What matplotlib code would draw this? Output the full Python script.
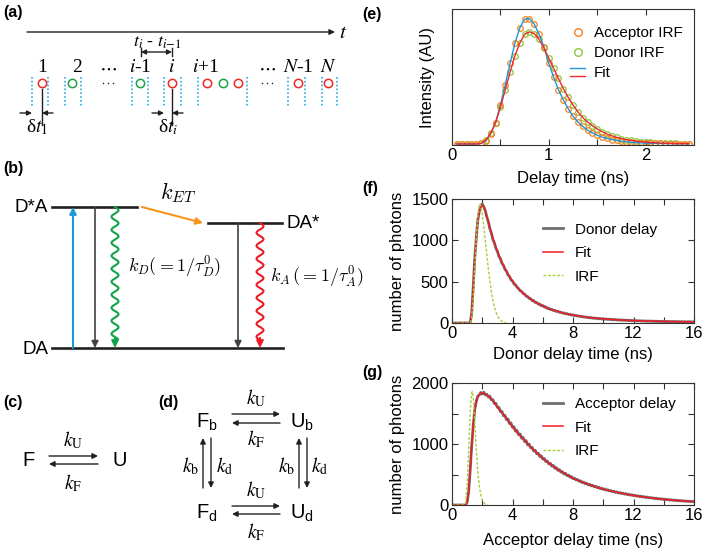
import numpy as np
import matplotlib.pyplot as plt
from matplotlib.lines import Line2D
from matplotlib.legend_handler import HandlerBase

plt.rcParams['font.family'] = ['Liberation Sans', 'DejaVu Sans']
plt.rcParams['mathtext.fontset'] = 'custom'
plt.rcParams['mathtext.rm'] = 'Liberation Sans'
plt.rcParams['mathtext.it'] = 'Liberation Sans:italic'

# ---------------- data ----------------
# (e) normalised IRFs, sampled every 0.05 ns
irf_t = np.round(np.arange(0.05, 2.451, 0.05), 2)
acc_irf = [0, 0, 0, 0, 0, 0.005, 0.025, 0.08, 0.17, 0.31, 0.47, 0.64, 0.80, 0.92,
           0.99, 0.995, 0.95, 0.87, 0.77, 0.64, 0.53, 0.43, 0.35, 0.28, 0.22,
           0.175, 0.14, 0.11, 0.088, 0.07, 0.055, 0.044, 0.035, 0.028, 0.022,
           0.018, 0.014, 0.011, 0.009, 0.007, 0.006, 0.005, 0.004, 0.003,
           0.003, 0.002, 0.002, 0.002, 0.001]
don_irf = [0, 0, 0, 0, 0, 0.005, 0.03, 0.085, 0.17, 0.29, 0.43, 0.57, 0.70, 0.80,
           0.87, 0.89, 0.875, 0.83, 0.76, 0.68, 0.60, 0.52, 0.44, 0.37, 0.31,
           0.255, 0.21, 0.175, 0.145, 0.12, 0.098, 0.08, 0.065, 0.053, 0.043,
           0.035, 0.028, 0.023, 0.018, 0.015, 0.012, 0.01, 0.008, 0.006,
           0.005, 0.004, 0.003, 0.003, 0.002]

# (f),(g) photon histograms, 0.1 ns bins from 0 to 16 ns
delay_t = np.round(np.arange(0, 16.01, 0.1), 1)
donor_delay = [0] * 12 + [
    6, 115, 430, 770, 1015, 1240, 1345, 1415, 1440, 1405, 1362, 1285, 1226, 1142,
    1090, 1012, 972, 905, 868, 806, 778, 722, 698, 648, 628, 582, 563, 522, 508,
    472, 460, 432, 417, 392, 384, 357, 349, 324, 320,
    296, 294, 270, 271, 249, 248, 229, 229, 209, 211,
    193, 196, 176, 179, 163, 166, 151, 153, 139, 143,
    129, 131, 119, 123, 111, 114, 103, 106, 95, 99,
    89, 91, 83, 86, 77, 80, 71, 74, 66, 70,
    61, 66, 57, 62, 54, 58, 50, 55, 47, 52,
    45, 49, 42, 47, 40, 44, 37, 42, 35, 40,
    33, 38, 31, 36, 30, 34, 28, 33, 26, 31,
    25, 30, 24, 28, 23, 27, 21, 26, 20, 25,
    19, 24, 18, 23, 18, 22, 17, 21, 16, 21,
    15, 20, 15, 19, 14, 19, 14, 18, 13, 18,
    13, 17, 12, 17, 12, 16, 12, 16, 11, 15]
acceptor_delay = [0] * 10 + [
    45, 215, 560, 965, 1290, 1560, 1690, 1785, 1800, 1845,
    1820, 1850, 1805, 1815, 1770, 1785, 1725, 1728, 1665, 1668,
    1600, 1602, 1530, 1535, 1462, 1470, 1398, 1410, 1335, 1345,
    1272, 1282, 1210, 1222, 1152, 1165, 1095, 1108, 1040, 1055,
    985, 998, 935, 946, 885, 898, 840, 850, 795, 808,
    752, 764, 712, 722, 672, 684, 636, 648, 602, 612,
    568, 580, 538, 548, 508, 520, 482, 492, 455, 466,
    432, 440, 410, 418, 388, 396, 368, 376, 349, 357,
    331, 339, 314, 322, 298, 306, 283, 291, 268, 277,
    255, 263, 242, 250, 230, 238, 218, 227, 207, 216,
    197, 205, 187, 195, 178, 186, 169, 177, 160, 168,
    152, 160, 144, 152, 137, 145, 130, 138, 123, 131,
    117, 124, 111, 118, 105, 112, 99, 106, 94, 101,
    89, 96, 84, 91, 80, 86, 76, 82, 72, 78,
    68, 74, 64, 70, 61, 66, 58, 63, 55, 60, 52]

donor_fit_t = [0, 1.2, 1.3, 1.4, 1.5, 1.6, 1.7, 1.8, 1.9, 2.0, 2.1, 2.2, 2.4, 2.6, 2.8,
               3.0, 3.2, 3.4, 3.6, 3.8, 4.0, 4.5, 5.0, 5.5, 6.0, 6.5, 7.0, 7.5, 8.0,
               9, 10, 11, 12, 13, 14, 15, 16]
donor_fit = [0, 0, 105, 425, 760, 1025, 1235, 1355, 1415, 1432, 1405, 1352, 1222, 1090,
             970, 866, 776, 697, 627, 562, 508, 390, 318, 252, 207, 164, 141, 112, 97,
             68, 50, 38, 29, 23, 19, 16, 14]
donor_irf_t = [0, 1.2, 1.3, 1.4, 1.5, 1.6, 1.7, 1.8, 1.85, 1.9, 2.0, 2.1, 2.2, 2.3, 2.4,
               2.5, 2.6, 2.7, 2.8, 2.9, 3.0, 3.1, 3.2, 3.3, 3.4, 3.5, 3.6]
donor_irf = [0, 0, 60, 300, 650, 1000, 1280, 1420, 1440, 1420, 1320, 1170, 1000, 830,
             660, 510, 380, 280, 195, 135, 90, 58, 36, 20, 10, 4, 0]

acc_fit_t = [0, 0.9, 1.0, 1.1, 1.2, 1.3, 1.4, 1.5, 1.6, 1.7, 1.8, 1.9, 2.0, 2.2, 2.4,
             2.6, 2.8, 3.0, 3.2, 3.5, 4.0, 4.5, 5.0, 5.5, 6.0, 6.5, 7.0, 7.5, 8.0,
             9, 10, 11, 12, 13, 14, 15, 16]
acc_fit = [0, 0, 40, 205, 555, 960, 1295, 1545, 1695, 1775, 1812, 1830, 1835, 1822,
           1785, 1735, 1675, 1605, 1540, 1460, 1277, 1140, 1005, 880, 762, 672, 578,
           508, 438, 337, 259, 201, 156, 121, 92, 71, 55]
acc_irf_t = [0, 0.8, 0.9, 1.0, 1.1, 1.2, 1.3, 1.35, 1.4, 1.5, 1.6, 1.7, 1.8, 1.9, 2.0,
             2.1, 2.2, 2.3, 2.4]
acc_irf_g = [0, 0, 30, 330, 900, 1500, 1840, 1860, 1780, 1400, 930, 560, 320, 170, 85,
             40, 15, 5, 0]

# ---------------- figure ----------------
W, H = 707, 551
fig = plt.figure(figsize=(W / 100, H / 100), dpi=100)
dg = fig.add_axes([0, 0, 1, 1])
dg.set_xlim(0, W)
dg.set_ylim(H, 0)
dg.axis('off')

ink = '#231f20'
serif = 'Liberation Serif'


def arrow(x0, y0, x1, y1, color=ink, lw=1.0, ms=9):
    dg.annotate('', xy=(x1, y1), xytext=(x0, y0),
                arrowprops=dict(arrowstyle='-|>', color=color, lw=lw,
                                mutation_scale=ms, shrinkA=0, shrinkB=0))


def wavy(x, y0, y1, color):
    ys = np.linspace(y0, y1 - 9, 300)
    xs = x + 3.5 * np.sin(2 * np.pi * (ys - y0) / 13.0)
    dg.plot(xs, ys, color=color, lw=1.5)
    arrow(x, y1 - 10, x, y1, color=color, lw=1.5, ms=10)


def tag(x, y, s):
    dg.text(x, y, s, fontsize=11.5, fontweight='bold', ha='left', va='center')


# (a) photon arrival sketch
tag(3, 13, '(a)')
arrow(27, 32, 335, 32, lw=1.0, ms=8)
dg.text(339, 32, r'$t$', fontsize=15, va='center', math_fontfamily='stix')
dg.text(157, 42, r'$t_i$ - $t_{i\mathrm{-}1}$', fontsize=13, ha='center', va='center',
        family=serif, math_fontfamily='stix')
dg.annotate('', xy=(172, 52), xytext=(141, 52),
            arrowprops=dict(arrowstyle='<|-|>', color=ink, lw=1.0, mutation_scale=7,
                            shrinkA=0, shrinkB=0))
for xv in [141, 172]:
    dg.plot([xv, xv], [48, 56], color=ink, lw=1.0)

num_x = [42, 77, 108, 140, 172, 206, 267, 298, 328]
num_lab = ['1', '2', r'$\cdots$', r'$i$-1', r'$i$', r'$i$+1', r'$\cdots$', r'$N$-1', r'$N$']
for xv, s in zip(num_x, num_lab):
    dg.text(xv, 68, s, fontsize=14, ha='center', va='center', family=serif,
            math_fontfamily='stix')

photon_x = [42, 72, 140, 172, 207, 223, 238, 298, 328]
photon_c = ['r', 'g', 'g', 'r', 'r', 'g', 'r', 'r', 'r']
cmap = {'r': '#ee2a24', 'g': '#1fa049'}
for xv, c in zip(photon_x, photon_c):
    dg.plot(xv, 83, 'o', ms=6, mfc='none', mec=cmap[c], mew=1.1)
# ellipsis in the photon row, drawn as three small dots
for xv in [108, 267]:
    dg.plot([xv - 5, xv, xv + 5], [83, 83, 83], 'o', ms=1.1, mew=0, color=ink)
gate_x = [32, 48, 65, 81, 132, 148, 164, 181, 198, 247, 288, 305, 322, 337]
for xv in gate_x:
    dg.plot([xv, xv], [77, 107], color='#29abe2', lw=1.2, ls=(0, (1, 1.3)))
for xv in [42, 172]:
    dg.plot([xv, xv], [89, 125], color=ink, lw=1.0)
arrow(20, 113, 32, 113, ms=7)
arrow(53, 113, 42, 113, ms=7)
arrow(152, 113, 164, 113, ms=7)
arrow(183, 113, 172, 113, ms=7)
dg.text(37, 127, r'δ$t_1$', fontsize=14, ha='center', va='center', family=serif,
        math_fontfamily='stix')
dg.text(168, 127, r'δ$t_i$', fontsize=14, ha='center', va='center', family=serif,
        math_fontfamily='stix')

# (b) energy level scheme
tag(3, 168, '(b)')
dg.plot([52, 137], [207, 207], color=ink, lw=1.9)
dg.plot([208, 282], [223, 223], color=ink, lw=1.9)
dg.plot([52, 283], [348, 348], color=ink, lw=1.9)
dg.text(48, 208, 'D*A', fontsize=13.5, ha='right', va='center')
dg.text(287, 223, 'DA*', fontsize=13.5, ha='left', va='center')
dg.text(48, 349, 'DA', fontsize=13.5, ha='right', va='center')
arrow(73, 348, 73, 207, color='#1b9ad6', lw=1.5, ms=10)
arrow(95, 207, 95, 348, color='#414042', lw=1.2, ms=10)
arrow(238, 223, 238, 348, color='#414042', lw=1.2, ms=10)
wavy(115, 207, 348, '#10a34a')
wavy(260, 223, 348, '#ed1c24')
arrow(142, 207, 203, 223, color='#f7941d', lw=1.5, ms=10)
dg.text(178, 193, r'$k_{ET}$', fontsize=16, ha='center', va='center', math_fontfamily='cm')
dg.text(128, 267, r'$k_D(=1/\tau_D^0)$', fontsize=13, ha='left', va='center',
        math_fontfamily='cm')
dg.text(270, 277, r'$k_A\,(=1/\tau_A^0)$', fontsize=13, ha='left', va='center',
        math_fontfamily='cm')


# (c) two-state scheme
def pair(x0, x1, y_top, y_bot, top_lab, bot_lab, xlab, ylab_top, ylab_bot):
    arrow(x0, y_top, x1, y_top, ms=8)
    arrow(x1, y_bot, x0, y_bot, ms=8)
    dg.text(xlab, ylab_top, top_lab, fontsize=14, ha='center', va='center',
            math_fontfamily='stix')
    dg.text(xlab, ylab_bot, bot_lab, fontsize=14, ha='center', va='center',
            math_fontfamily='stix')


tag(3, 402, '(c)')
dg.text(28, 461, 'F', fontsize=14.5, ha='center', va='center')
dg.text(120, 461, 'U', fontsize=14.5, ha='center', va='center')
pair(49, 98, 456, 464, r'$k_\mathrm{U}$', r'$k_\mathrm{F}$', 73, 440, 483)

# (d) four-state scheme
tag(158, 402, '(d)')
for xv, yv, s in [(207, 422, r'F$_\mathrm{b}$'), (302, 422, r'U$_\mathrm{b}$'),
                  (207, 513, r'F$_\mathrm{d}$'), (302, 513, r'U$_\mathrm{d}$')]:
    dg.text(xv, yv, s, fontsize=14.5, ha='center', va='center', math_fontfamily='custom')
pair(232, 280, 414, 423, r'$k_\mathrm{U}$', r'$k_\mathrm{F}$', 256, 398, 439)
pair(232, 280, 506, 514, r'$k_\mathrm{U}$', r'$k_\mathrm{F}$', 256, 490, 532)
for xu, xd, xb, xk in [(203, 211, 191, 225), (299, 307, 287, 320)]:
    arrow(xu, 488, xu, 438, ms=8)
    arrow(xd, 438, xd, 488, ms=8)
    dg.text(xb, 466, r'$k_\mathrm{b}$', fontsize=14, ha='center', va='center',
            math_fontfamily='stix')
    dg.text(xk, 466, r'$k_\mathrm{d}$', fontsize=14, ha='center', va='center',
            math_fontfamily='stix')

# ---------------- data panels ----------------
def px_axes(l, t, r, b):
    return fig.add_axes([l / W, 1 - b / H, (r - l) / W, (b - t) / H])


def style(ax):
    ax.tick_params(which='both', direction='in', top=True, right=True, length=4,
                   width=0.8, labelsize=12, pad=2.5, color='#333333')
    for sp in ax.spines.values():
        sp.set_linewidth(0.8)
        sp.set_color('#333333')


class HandlerFit(HandlerBase):
    def create_artists(self, legend, orig_handle, xdescent, ydescent, width, height,
                       fontsize, trans):
        y0 = height / 2 - ydescent
        out = []
        for line, dy in zip(orig_handle, [0.35 * height, -0.35 * height]):
            out.append(Line2D([-xdescent, width - xdescent], [y0 + dy, y0 + dy],
                              color=line.get_color(), lw=line.get_linewidth(),
                              transform=trans))
        return out


# (e)
tag(362, 15, '(e)')
ax = px_axes(452, 9, 694, 145)
style(ax)
orange, lime = '#f58220', '#8dc63f'
ax.plot(irf_t, don_irf, 'o', ms=4, mfc='none', mec=lime, mew=0.9)
ax.plot(irf_t, acc_irf, 'o', ms=4, mfc='none', mec=orange, mew=0.9)
fb, = ax.plot(irf_t, acc_irf, color='#1e96d6', lw=1.0)
fr, = ax.plot(irf_t, don_irf, color='#ee2a2a', lw=1.0)
h_acc = Line2D([], [], marker='o', ls='none', ms=5.5, mfc='none', mec=orange, mew=1.0)
h_don = Line2D([], [], marker='o', ls='none', ms=5.5, mfc='none', mec=lime, mew=1.0)
ax.legend([h_acc, h_don, (fb, fr)], ['Acceptor IRF', 'Donor IRF', 'Fit'],
          handler_map={tuple: HandlerFit()}, loc='upper left',
          bbox_to_anchor=(0.488, 0.875), frameon=False, fontsize=11, handlelength=1.0,
          handletextpad=0.55, labelspacing=0.4, borderpad=0, borderaxespad=0)
ax.set_xlim(0, 2.5)
ax.set_ylim(-0.008, 1.071)
ax.set_xticks([0, 0.5, 1, 1.5, 2, 2.5])
ax.set_xticklabels(['0', '', '1', '', '2', ''])
ax.set_yticks([])
ax.set_xlabel('Delay time (ns)', fontsize=12, va='center')
ax.xaxis.set_label_coords(0.5, -0.243)
ax.set_ylabel('Intensity (AU)', fontsize=12, va='center')
ax.yaxis.set_label_coords(-0.103, 0.5)

# (f) and (g)
gray, red, irfc = '#6d6e71', '#ed1c24', '#a6ce39'
panels = [
    ('(f)', 188, (452, 199, 694, 323), donor_delay, donor_fit_t, donor_fit,
     donor_irf_t, donor_irf, 'Donor delay', 'Donor delay time (ns)', 1500,
     [0, 500, 1000, 1500], ['0', '500', '1000', '1500'], 0.81, -0.258),
    ('(g)', 373, (452, 383, 694, 505), acceptor_delay, acc_fit_t, acc_fit,
     acc_irf_t, acc_irf_g, 'Acceptor delay', 'Acceptor delay time (ns)', 2000,
     [0, 500, 1000, 1500, 2000], ['0', '', '1000', '', '2000'], 0.885, -0.287),
]
for (lab, ty, box, counts, ft, fv, it, iv, name, xlab, ymax, yt, ytl,
     legy, xly) in panels:
    tag(362, ty, lab)
    ax = px_axes(*box)
    style(ax)
    ax.plot(delay_t, counts, color=gray, lw=2.0, label=name)
    ax.plot(ft, fv, color=red, lw=1.1, label='Fit')
    ax.plot(it, iv, color=irfc, lw=1.0, ls=(0, (2, 1.3)), label='IRF')
    ax.legend(loc='upper left', bbox_to_anchor=(0.376, legy), frameon=False,
              fontsize=11, handlelength=1.3, handletextpad=0.8, labelspacing=0.62,
              borderpad=0, borderaxespad=0)
    ax.set_xlim(0, 16)
    ax.set_ylim(0, ymax)
    ax.set_xticks(range(0, 17, 2))
    ax.set_xticklabels(['0', '', '4', '', '8', '', '12', '', '16'])
    ax.set_yticks(yt)
    ax.set_yticklabels(ytl)
    ax.set_xlabel(xlab, fontsize=12, va='center')
    ax.xaxis.set_label_coords(0.5, xly)
    ax.set_ylabel('number of photons', fontsize=12, va='center')
    ax.yaxis.set_label_coords(-0.227, 0.5)

fig.savefig('out.png', dpi=100)
